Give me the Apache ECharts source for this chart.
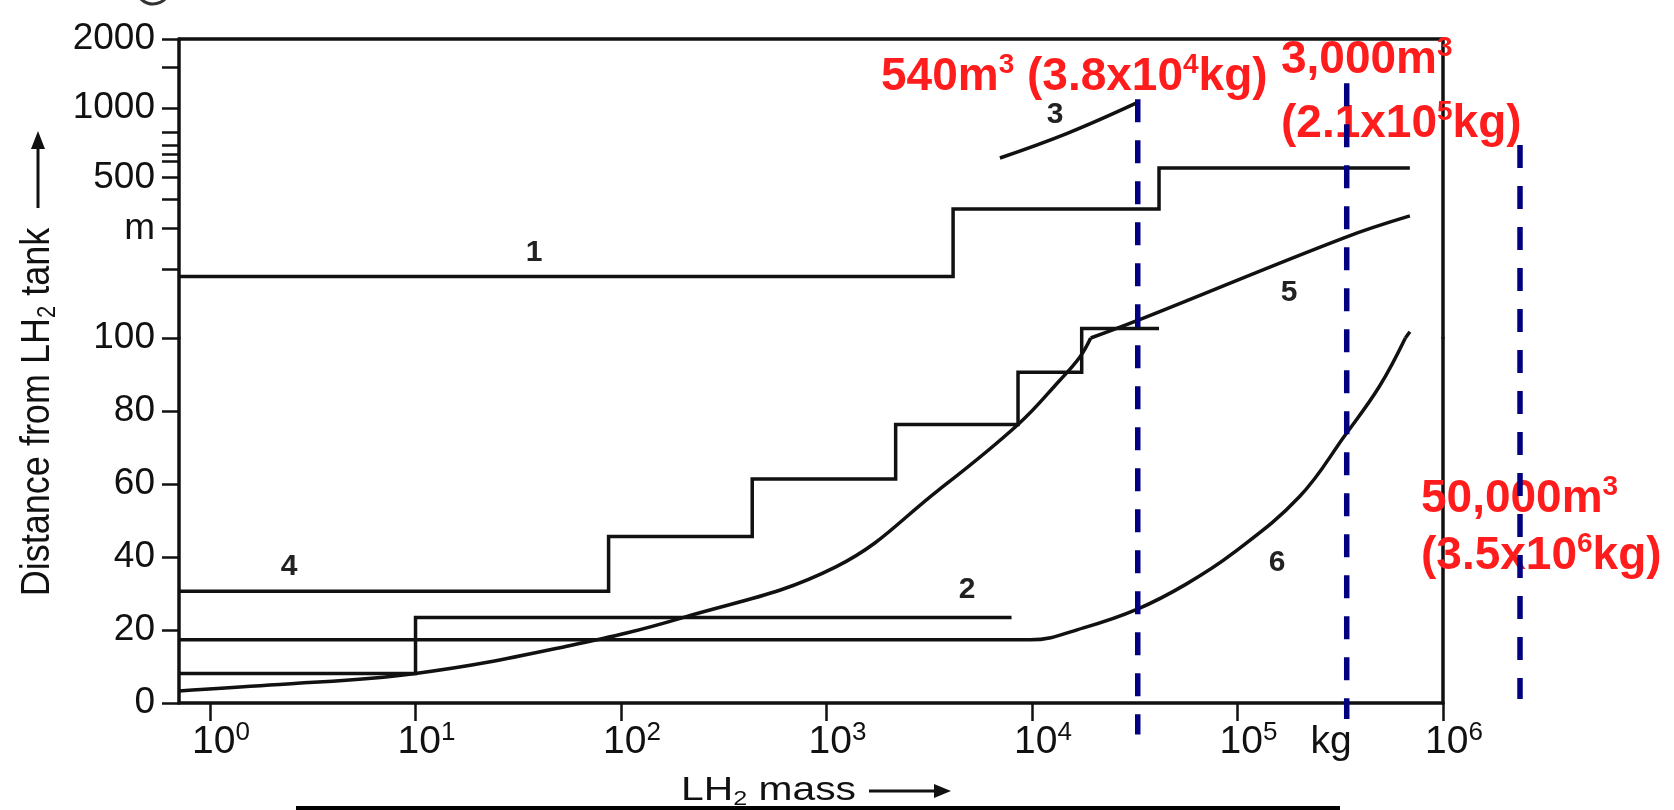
<!DOCTYPE html>
<html>
<head>
<meta charset="utf-8">
<title>LH2 safety distances</title>
<script src="https://cdn.jsdelivr.net/npm/echarts@6.0.0/dist/echarts.min.js"></script>
<style>
html,body{margin:0;padding:0;background:#ffffff;}
#chart{width:1674px;height:810px;}
</style>
</head>
<body>
<div id="chart"></div>
<script>
// ===== Data: LH2 mass (kg) vs. distance from LH2 tank (m) =====
const massAxisMin = 0.7063;
const massAxisMax = 1e6;
const distLinearMax = 100;     // 0..100 m drawn linearly
const distLogMax = 2000;       // 100..2000 m drawn logarithmically
const massTickValues = [1, 10, 100, 1000, 10000, 100000, 1000000];
const massUnitLabel = 'kg';
const massUnitLabelAt = 285000;
const distLinearTickStep = 20;
const distLogTickValues = [200, 300, 400, 500, 585, 633, 687, 782, 1000, 1500, 2000];
const distLogLabelValues = [300, 500, 1000, 2000];
const distUnitLabel = 'm';
const distUnitLabelAt = 300;

const curve1 = [[0.7063,185],[4130,185],[4130,364],[41500,364],[41500,549],[690000,549]];
const curve2 = [[0.7063,8.1],[10,8.1],[10,23.4],[7950,23.4]];
const curve3 = [[6980,607],[14750,775],[32300,1054]];
const curve4 = [[0.7063,30.6],[87,30.6],[87,45.6],[435,45.6],[435,61.4],[2170,61.4],[2170,76.3],[8550,76.3],[8550,90.6],[17450,90.6],[17450,100],[17450,110],[41500,110]];
const curve5 = [[0.7063,3.3],[1.95,4.9],[10,8.1],[56,15.7],[200,23.4],[1110,37.3],[3520,58.4],[8550,76.3],[13700,88.5],[17100,94.8],[19300,100],[32400,119],[330000,273],[690000,340]];
const curve6 = [[0.7063,17.3],[6500,17.3],[9800,17.3],[17800,20.6],[32800,25.8],[56000,32.5],[95500,41.1],[200000,56.5],[335000,73.5],[490000,86.7],[656000,100],[690000,106.5]];
const curveNames = ['1','2','3','4','5','6'];
const curveSmooth = [false, false, true, false, true, true];

// dashed markers (mass in kg; vertical extent in m along the linear scale extension)
const markerMass = [32700, 340000, 2370000];
const markerTopM = [165.4, 169.8, 152.9];
const markerBottomM = [-8.6, -4.4, 1.1];

// ===== Layout / style =====
const FONT = "'Liberation Sans', Arial, Helvetica, sans-serif";
const INK = '#111111';
const RED = '#ff1c1c';
const NAVY = '#000080';
const LAY = {left:179, right:1443, top:39, mid:338, bottom:703, width:1674, height:810};

const decadePx = (LAY.right - LAY.left) / (Math.log10(massAxisMax) - Math.log10(massAxisMin));
const annMassMax = Math.pow(10, Math.log10(massAxisMin) + (LAY.width - LAY.left) / decadePx);
const mPerPx = distLinearMax / (LAY.bottom - LAY.mid);
const annDistMin = -(LAY.height - LAY.bottom) * mPerPx;
const annDistMax = LAY.bottom * mPerPx;

const axisLineStyle = {color: INK, width: 3.5};
const tickLineStyle = {color: INK, width: 2.5};

function lowerPart(c) { return c.filter(p => p[1] <= distLinearMax); }
function upperPart(c) { return c.filter(p => p[1] >= distLinearMax); }

function lineSeries(name, data, idx, smooth) {
  return {
    type: 'line', name: name, xAxisIndex: idx, yAxisIndex: idx, data: data,
    smooth: smooth ? 0.4 : false,
    symbol: 'none', showSymbol: false, clip: false, silent: true, z: 3,
    lineStyle: {color: INK, width: 3.5, join: 'miter'}
  };
}

const series = [];
[curve1, curve2, curve3, curve4, curve5, curve6].forEach((c, i) => {
  const lo = lowerPart(c), hi = upperPart(c);
  if (lo.length > 1) series.push(lineSeries(curveNames[i], lo, 0, curveSmooth[i]));
  if (hi.length > 1) series.push(lineSeries(curveNames[i], hi, 1, curveSmooth[i]));
});
markerMass.forEach((m, i) => {
  series.push({
    type: 'line', xAxisIndex: 2, yAxisIndex: 4, symbol: 'none', clip: false, silent: true, z: 5,
    data: [[m, markerTopM[i]], [m, markerBottomM[i]]],
    lineStyle: {color: NAVY, width: 5.5, type: [23, 18], cap: 'butt'}
  });
});

const isClose = (a, b) => Math.abs(a - b) <= Math.abs(b) * 1e-6;

const option = {
  animation: false,
  backgroundColor: '#ffffff',
  grid: [
    {left: LAY.left, width: LAY.right - LAY.left, top: LAY.mid, height: LAY.bottom - LAY.mid, containLabel: false, outerBoundsMode: 'none'},
    {left: LAY.left, width: LAY.right - LAY.left, top: LAY.top, height: LAY.mid - LAY.top, containLabel: false, outerBoundsMode: 'none'},
    {left: LAY.left, right: 0, top: 0, bottom: 0, containLabel: false, outerBoundsMode: 'none'}
  ],
  xAxis: [
    {
      type: 'log', gridIndex: 0, min: massAxisMin, max: massAxisMax, position: 'bottom',
      axisLine: {show: true, onZero: false, lineStyle: axisLineStyle},
      axisTick: {show: true, inside: false, length: 18, customValues: massTickValues, lineStyle: tickLineStyle},
      axisLabel: {
        show: true, margin: 17, customValues: massTickValues.concat([massUnitLabelAt]),
        formatter: function (v) {
          if (isClose(v, massUnitLabelAt)) return '{k|' + massUnitLabel + '}';
          return '{b|10}{s|' + Math.round(Math.log10(v)) + '}';
        },
        rich: {
          b: {fontSize: 39, lineHeight: 44, fontFamily: FONT, color: INK, padding: [0, 0, 0, 22]},
          s: {fontSize: 26, lineHeight: 26, fontFamily: FONT, color: INK, verticalAlign: 'top'},
          k: {fontSize: 39, lineHeight: 44, fontFamily: FONT, color: INK}
        }
      },
      splitLine: {show: false}, minorTick: {show: false}, minorSplitLine: {show: false}
    },
    {
      type: 'log', gridIndex: 1, min: massAxisMin, max: massAxisMax, position: 'top',
      axisLine: {show: true, onZero: false, lineStyle: axisLineStyle},
      axisTick: {show: false}, axisLabel: {show: false}, splitLine: {show: false}
    },
    {type: 'log', gridIndex: 2, min: massAxisMin, max: annMassMax, show: false, splitLine: {show: false}}
  ],
  yAxis: [
    {
      type: 'value', gridIndex: 0, min: 0, max: distLinearMax, interval: distLinearTickStep, position: 'left',
      axisLine: {show: true, onZero: false, lineStyle: axisLineStyle},
      axisTick: {show: true, inside: false, length: 17, lineStyle: tickLineStyle},
      axisLabel: {show: true, margin: 24, fontSize: 37, fontFamily: FONT, color: INK},
      splitLine: {show: false}
    },
    {
      type: 'log', gridIndex: 1, min: distLinearMax, max: distLogMax, position: 'left',
      axisLine: {show: true, onZero: false, lineStyle: axisLineStyle},
      axisTick: {show: true, inside: false, length: 17, customValues: distLogTickValues, lineStyle: tickLineStyle},
      axisLabel: {
        show: true, margin: 24, fontSize: 37, fontFamily: FONT, color: INK,
        customValues: distLogLabelValues,
        formatter: function (v) { return isClose(v, distUnitLabelAt) ? distUnitLabel : String(Math.round(v)); }
      },
      splitLine: {show: false}, minorTick: {show: false}
    },
    {
      type: 'value', gridIndex: 0, min: 0, max: 1, position: 'right',
      axisLine: {show: true, onZero: false, lineStyle: axisLineStyle},
      axisTick: {show: false}, axisLabel: {show: false}, splitLine: {show: false}
    },
    {
      type: 'value', gridIndex: 1, min: 0, max: 1, position: 'right',
      axisLine: {show: true, onZero: false, lineStyle: axisLineStyle},
      axisTick: {show: false}, axisLabel: {show: false}, splitLine: {show: false}
    },
    {type: 'value', gridIndex: 2, min: annDistMin, max: annDistMax, show: false, splitLine: {show: false}}
  ],
  series: series,
  graphic: {
    elements: [
      // small arc fragment at the top-left edge of the scan
      {type: 'arc', z: 10, shape: {cx: 153, cy: -13, r: 17, startAngle: 0.35, endAngle: Math.PI - 0.35, clockwise: true},
        style: {stroke: '#333', lineWidth: 3, fill: null}},
      // y-axis title
      {
        type: 'text', x: 38, y: 412, rotation: Math.PI / 2, scaleY: 1.15, z: 10,
        style: {
          text: '{a|Distance from LH}{s|2}{a| tank}',
          align: 'center', verticalAlign: 'middle', textAlign: 'center', textVerticalAlign: 'middle',
          rich: {
            a: {fontSize: 36, lineHeight: 40, fontFamily: FONT, fill: INK},
            s: {fontSize: 22, lineHeight: 22, fontFamily: FONT, fill: INK, verticalAlign: 'bottom'}
          }
        }
      },
      {type: 'line', z: 10, shape: {x1: 38, y1: 208, x2: 38, y2: 142}, style: {stroke: INK, lineWidth: 3}},
      {type: 'polygon', z: 10, shape: {points: [[38, 131], [31, 149], [45, 149]]}, style: {fill: INK}},
      // x-axis title
      {
        type: 'text', x: 681, y: 791, scaleX: 1.2, z: 10,
        style: {
          text: '{a|LH}{s|2}{a| mass}',
          align: 'left', verticalAlign: 'middle', textAlign: 'left', textVerticalAlign: 'middle',
          rich: {
            a: {fontSize: 34, lineHeight: 38, fontFamily: FONT, fill: INK},
            s: {fontSize: 21, lineHeight: 21, fontFamily: FONT, fill: INK, verticalAlign: 'bottom'}
          }
        }
      },
      {type: 'line', z: 10, shape: {x1: 869, y1: 791, x2: 938, y2: 791}, style: {stroke: INK, lineWidth: 3}},
      {type: 'polygon', z: 10, shape: {points: [[951, 791], [934, 784], [934, 798]]}, style: {fill: INK}},
      // bottom black bar
      {type: 'rect', z: 11, shape: {x: 296, y: 806, width: 1044, height: 6}, style: {fill: '#000'}},
      // curve numbers
      ...[[534, 253, '1'], [967, 590, '2'], [1055, 115, '3'], [289, 567, '4'], [1289, 293, '5'], [1277, 563, '6']].map(d => ({
        type: 'text', x: d[0], y: d[1], z: 10,
        style: {text: d[2], fontSize: 30, fontWeight: 'bold', fontFamily: FONT, fill: '#222',
          align: 'center', verticalAlign: 'middle', textAlign: 'center', textVerticalAlign: 'middle'}
      })),
      // red annotations
      ...[
        [881, 77, '{a|540m}{s|3}{a| (3.8x10}{s|4}{a|kg)}'],
        [1281, 60, '{a|3,000m}{s|3}'],
        [1281, 124, '{a|(2.1x10}{s|5}{a|kg)}'],
        [1421, 499, '{a|50,000m}{s|3}'],
        [1421, 556, '{a|(3.5x10}{s|6}{a|kg)}']
      ].map(d => ({
        type: 'text', x: d[0], y: d[1], z: 1,
        style: {
          text: d[2], align: 'left', verticalAlign: 'middle', textAlign: 'left', textVerticalAlign: 'middle',
          rich: {
            a: {fontSize: 46, lineHeight: 52, fontWeight: 'bold', fontFamily: FONT, fill: RED},
            s: {fontSize: 28, lineHeight: 28, fontWeight: 'bold', fontFamily: FONT, fill: RED, verticalAlign: 'top'}
          }
        }
      }))
    ]
  }
};

const chart = echarts.init(document.getElementById('chart'), null, {renderer: 'canvas', width: 1674, height: 810});
chart.setOption(option);
</script>
</body>
</html>
